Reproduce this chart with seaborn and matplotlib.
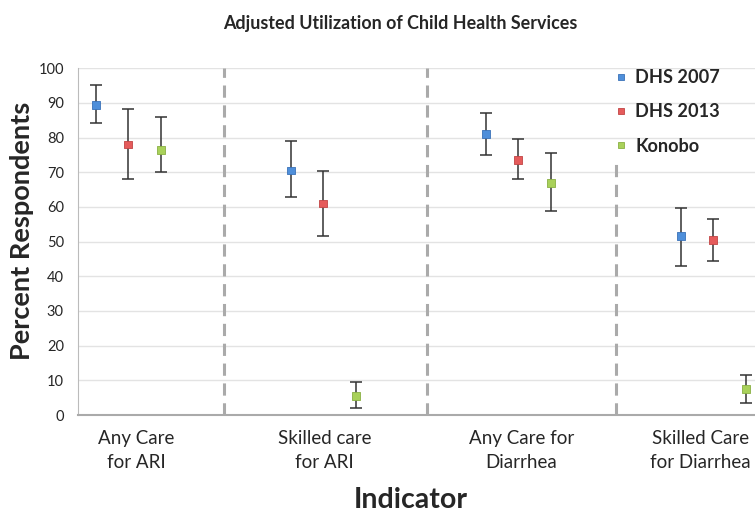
import matplotlib
matplotlib.use("Agg")
import matplotlib.pyplot as plt
import seaborn as sns
import pandas as pd

categories = ["Any Care\nfor ARI", "Skilled care\nfor ARI", "Any Care for\nDiarrhea", "Skilled Care\nfor Diarrhea"]
series = ["DHS 2007", "DHS 2013", "Konobo"]
dhs2007 = [89.5, 70.5, 81.0, 51.5]
dhs2007_lo = [84.2, 62.8, 75.0, 43.0]
dhs2007_hi = [95.2, 79.0, 87.0, 59.8]
dhs2013 = [78.0, 61.0, 73.5, 50.5]
dhs2013_lo = [68.0, 51.5, 68.0, 44.5]
dhs2013_hi = [88.2, 70.3, 79.5, 56.5]
konobo = [76.5, 5.5, 67.0, 7.5]
konobo_lo = [70.0, 2.0, 58.8, 3.5]
konobo_hi = [86.0, 9.5, 75.5, 11.5]
yticks = list(range(0, 101, 10))

colors = {"DHS 2007": "#4F8FDA", "DHS 2013": "#E55B5B", "Konobo": "#A9D15A"}
edges = {"DHS 2007": "#3A72B8", "DHS 2013": "#C24444", "Konobo": "#8AB043"}

vals = {"DHS 2007": (dhs2007, dhs2007_lo, dhs2007_hi),
        "DHS 2013": (dhs2013, dhs2013_lo, dhs2013_hi),
        "Konobo": (konobo, konobo_lo, konobo_hi)}

rows = []
for k, s in enumerate(series):
    v, lo, hi = vals[s]
    for g, c in enumerate(categories):
        rows.append({"x": 6 * g + k, "y": v[g], "lo": lo[g], "hi": hi[g], "series": s, "cat": c})
df = pd.DataFrame(rows)

sns.set_style("white")
plt.rcParams["font.family"] = ["Lato", "DejaVu Sans"]

fig = plt.figure(figsize=(7.55, 5.13), dpi=100)
ax = fig.add_axes([0.103, 0.191, 0.897, 0.676])

for s in series:
    d = df[df.series == s]
    ax.errorbar(d.x, d.y, yerr=[d.y - d.lo, d.hi - d.y], fmt="none",
                ecolor="#333333", elinewidth=1.1, capsize=4, capthick=1.1, zorder=2)

sns.scatterplot(data=df, x="x", y="y", hue="series", palette=colors, marker="s",
                s=32, linewidth=0.6, edgecolor=[edges[s] for s in df.series],
                ax=ax, zorder=3, legend=False)

ax.set_ylim(0, 100)
ax.set_xlim(-0.55, 20.28)
ax.set_yticks(yticks)
ax.set_yticklabels([str(t) for t in yticks], fontsize=10.5)
ax.yaxis.grid(True, color="#E3E3E3", linewidth=1)
ax.set_axisbelow(True)

centers = [1.26, 7.05, 13.1, 18.6]
ax.set_xticks(centers)
ax.set_xticklabels(categories, fontsize=13.5, linespacing=1.45)
ax.tick_params(axis="x", length=0, pad=11)
ax.tick_params(axis="y", length=0, pad=10)

for sp in ["top", "right"]:
    ax.spines[sp].set_visible(False)
ax.spines["left"].set_color("#BBBBBB")
ax.spines["bottom"].set_color("#AAAAAA")
ax.spines["bottom"].set_linewidth(1.5)

for xv, ytop in [(3.94, 100), (10.2, 100), (16.0, 73)]:
    ax.plot([xv, xv], [0, ytop], color="#AAAAAA", linestyle=(0, (4, 2.5)), linewidth=2.2, zorder=1)

ax.set_xlabel("Indicator", fontsize=20.5, fontweight="bold", labelpad=12)
ax.xaxis.label.set_x(0.492)
ax.set_ylabel("Percent Respondents", fontsize=19.5, fontweight="bold", labelpad=3)
ax.yaxis.label.set_y(0.53)
fig.text(0.53, 0.955, "Adjusted Utilization of Child Health Services", ha="center",
         va="center", fontsize=12.9, fontweight="bold")

handles = [plt.Line2D([], [], marker="s", linestyle="none", markersize=5,
                      markerfacecolor=colors[s], markeredgecolor=edges[s], markeredgewidth=0.6)
           for s in series]
leg = ax.legend(handles, series, loc="upper left", bbox_to_anchor=(0.764, 1.045),
                frameon=False, prop={"weight": "bold", "size": 13.1},
                labelspacing=0.95, handletextpad=0.3, handlelength=1.0)

fig.savefig("out.png", dpi=100)
